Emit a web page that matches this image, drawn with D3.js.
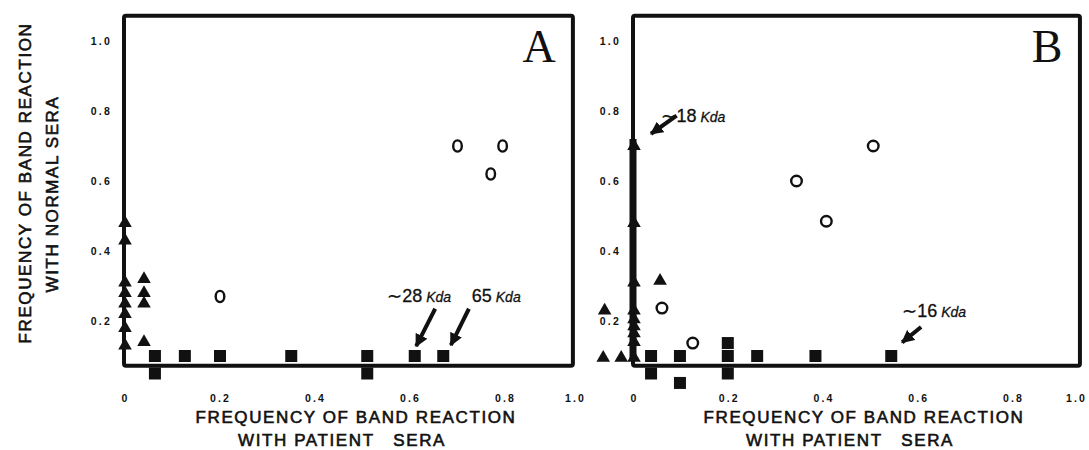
<!DOCTYPE html>
<html>
<head>
<meta charset="utf-8">
<script src="https://cdn.jsdelivr.net/npm/d3@7"></script>
<style>
  body { margin: 0; background: #fff; }
  svg { display: block; }
  .tick text { font-family: "Liberation Sans", Arial, sans-serif; font-weight: bold; font-size: 10.5px; letter-spacing: 2.2px; fill: #111; }
  .title { font-family: "Liberation Sans", Arial, sans-serif; font-size: 17px; letter-spacing: 1.6px; fill: #111; stroke: #111; stroke-width: 0.6px; }
  .note { font-family: "Liberation Sans", Arial, sans-serif; font-size: 18px; fill: #111; stroke: #111; stroke-width: 0.3px; }
  .note .kda { font-style: italic; font-size: 14px; }
  .letter { font-family: "Liberation Serif", "Times New Roman", serif; font-size: 46px; fill: #111; }
</style>
</head>
<body>
<script>
// tick values shared by both panels
var xTicks = [0, 0.2, 0.4, 0.6, 0.8, 1.0];
var yTicks = [0.2, 0.4, 0.6, 0.8, 1.0];

// panel A : [patient, normal]
var triA = [[0,0.48],[0,0.43],[0,0.31],[0,0.28],[0,0.25],[0,0.22],[0,0.18],[0,0.13],
            [0.04,0.32],[0.04,0.28],[0.04,0.25],[0.04,0.14]];
var sqA = [[0.063,0.1],[0.126,0.1],[0.2,0.1],[0.35,0.1],[0.51,0.1],[0.61,0.1],[0.67,0.1],
           [0.063,0.05],[0.51,0.05]];
var circA = [[0.2,0.27],[0.7,0.7],[0.795,0.7],[0.77,0.62]];

// panel B
var triB = [[0,0.70],[0,0.48],[0,0.31],[0,0.23],[0,0.205],[0,0.185],[0,0.165],[0,0.14],[0,0.095],
            [0.055,0.315],[-0.062,0.23],[-0.065,0.095],[-0.027,0.095]];
var sqB = [[0.036,0.1],[0.097,0.1],[0.198,0.1],[0.198,0.137],[0.26,0.1],[0.383,0.1],[0.543,0.1],
           [0.036,0.05],[0.097,0.023],[0.198,0.05]];
var circB = [[0.059,0.237],[0.124,0.137],[0.343,0.60],[0.406,0.485],[0.505,0.70]];

// annotations: label, text pos, arrow tail, arrow tip (data units)
var notesA = [
  {num: "\u223C28", at: [0.552, 0.254], from: [0.653, 0.235], to: [0.613, 0.128]},
  {num: "65", at: [0.73, 0.254], from: [0.724, 0.235], to: [0.686, 0.131]}
];
var notesB = [
  {num: "\u223C18", at: [0.058, 0.769], from: [0.09, 0.787], to: [0.036, 0.735]},
  {num: "\u223C16", at: [0.566, 0.211], from: [0.606, 0.183], to: [0.566, 0.139]}
];

var svg = d3.select("body").append("svg")
    .attr("width", 1089)
    .attr("height", 450);

svg.append("defs").append("marker")
    .attr("id", "head")
    .attr("markerUnits", "userSpaceOnUse")
    .attr("viewBox", "0 0 10 10")
    .attr("refX", 9).attr("refY", 5)
    .attr("markerWidth", 13).attr("markerHeight", 13)
    .attr("orient", "auto")
  .append("path")
    .attr("d", "M0,0 L10,5 L0,10 Z")
    .attr("fill", "#111");

function panel(o) {
    var x = d3.scaleLinear().domain([0, 0.8, 1.0]).range(o.xr);
    var y = d3.scaleLinear().domain([0, 1]).range([391, 41]);
    var g = svg.append("g");

    // frame
    g.append("rect")
        .attr("x", x(0) - 1)
        .attr("y", y(1.072))
        .attr("width", x(0.994) - x(0) + 1)
        .attr("height", y(0.072) - y(1.072))
        .attr("rx", 2)
        .attr("fill", "none")
        .attr("stroke", "#111")
        .attr("stroke-width", 4);

    if (o.thick) {
        g.append("line")
            .attr("x1", x(0) - 1).attr("x2", x(0) - 1)
            .attr("y1", y(o.thick[0])).attr("y2", y(o.thick[1]))
            .attr("stroke", "#111").attr("stroke-width", 7);
    }

    g.append("g")
        .attr("transform", "translate(0,392)")
        .call(d3.axisBottom(x).tickValues(xTicks).tickSize(0)
            .tickFormat(function (d) { return d === 0 ? "0" : d3.format(".1f")(d); }))
        .call(function (a) { a.select(".domain").remove(); })
        .selectAll("text")
        .attr("dx", function (d) { return d === 1 ? o.lastDx : 0; });

    g.append("g")
        .attr("transform", "translate(" + (x(0) - 10) + ",0)")
        .call(d3.axisLeft(y).tickValues(yTicks).tickSize(0).tickFormat(d3.format(".1f")))
        .call(function (a) { a.select(".domain").remove(); })
        .selectAll("text").attr("dy", "0.35em");

    g.selectAll(".sq")
        .data(o.sq)
        .enter().append("rect")
        .attr("x", function (d) { return x(d[0]) - 6; })
        .attr("y", function (d) { return y(d[1]) - 6; })
        .attr("width", 12).attr("height", 12)
        .attr("fill", "#111");

    g.selectAll(".tri")
        .data(o.tri)
        .enter().append("path")
        .attr("d", d3.symbol().type(d3.symbolTriangle).size(80))
        .attr("transform", function (d) { return "translate(" + x(d[0]) + "," + y(d[1]) + ")"; })
        .attr("fill", "#111");

    g.selectAll(".circ")
        .data(o.circ)
        .enter().append("ellipse")
        .attr("cx", function (d) { return x(d[0]); })
        .attr("cy", function (d) { return y(d[1]); })
        .attr("rx", o.rx).attr("ry", o.ry)
        .attr("fill", "none")
        .attr("stroke", "#111")
        .attr("stroke-width", 2.4);

    o.notes.forEach(function (n) {
        var t = g.append("text").attr("class", "note")
            .attr("x", x(n.at[0])).attr("y", y(n.at[1]));
        t.append("tspan").text(n.num);
        t.append("tspan").attr("class", "kda").attr("dx", 4).text("Kda");
        g.append("line")
            .attr("x1", x(n.from[0])).attr("y1", y(n.from[1]))
            .attr("x2", x(n.to[0])).attr("y2", y(n.to[1]))
            .attr("stroke", "#111").attr("stroke-width", 4)
            .attr("marker-end", "url(#head)");
    });

    g.append("text").attr("class", "letter")
        .attr("x", o.letterX).attr("y", 62)
        .attr("text-anchor", "middle")
        .text(o.letter);

    var cx = (o.xr[0] + o.xr[2]) / 2;
    g.append("text").attr("class", "title")
        .attr("x", cx + 6).attr("y", 423)
        .attr("text-anchor", "middle")
        .text("FREQUENCY OF BAND REACTION");
    g.append("text").attr("class", "title")
        .attr("x", cx - 8).attr("y", 446)
        .attr("text-anchor", "middle")
        .style("white-space", "pre")
        .text("WITH PATIENT   SERA");
}

panel({xr: [125, 505, 575], tri: triA, sq: sqA, circ: circA, rx: 4.3, ry: 5.6,
       notes: notesA, letter: "A", letterX: 539, lastDx: 0});
panel({xr: [634, 1013, 1082], tri: triB, sq: sqB, circ: circB, rx: 5.3, ry: 5.3,
       notes: notesB, letter: "B", letterX: 1047, thick: [0.09, 0.72], lastDx: -6});

// shared y title
svg.append("text").attr("class", "title")
    .attr("transform", "translate(31,183) rotate(-90)")
    .attr("text-anchor", "middle")
    .text("FREQUENCY OF BAND REACTION");
svg.append("text").attr("class", "title")
    .attr("transform", "translate(58,194) rotate(-90)")
    .attr("text-anchor", "middle")
    .text("WITH NORMAL SERA");
</script>
</body>
</html>
